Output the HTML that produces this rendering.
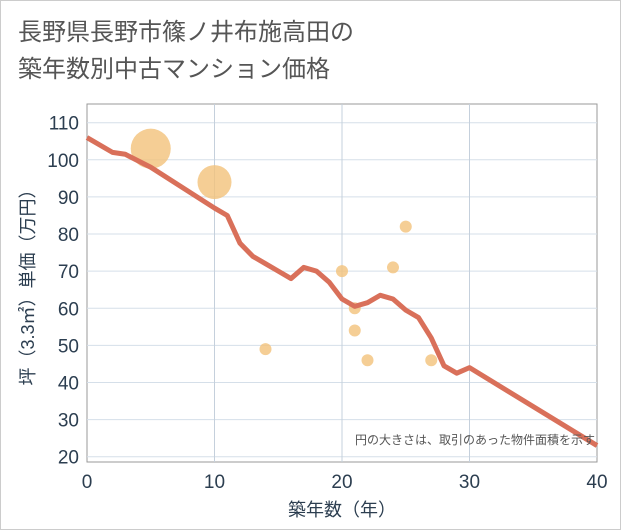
<!DOCTYPE html>
<html><head><meta charset="utf-8">
<style>
body{margin:0;background:#fff;}
#wrap{position:relative;width:619px;height:528px;border:1px solid #ccc;background:#fff;font-family:"Liberation Sans","Noto Sans CJK JP",sans-serif;}
#title{position:absolute;left:17px;top:13px;font-size:24px;line-height:37px;color:#555;}
svg{position:absolute;left:0;top:0;}
</style></head><body>
<div id="wrap">
<div id="title">長野県長野市篠ノ井布施高田の<br>築年数別中古マンション価格</div>
<svg id="chart" width="619" height="528"></svg>
</div>
<script>
const lineX=[0,2,3,5,10,11,12,13,14,15,16,17,18,19,20,21,22,23,24,25,26,27,28,29,30,40];
const lineY=[106,102,101.5,98,87,85,77.5,74,72,70,68,71,70,67,62.5,60.5,61.5,63.5,62.5,59.5,57.5,52,44.5,42.5,44,23];
const bubX=[5,10,14,20,21,21,22,24,25,27];
const bubY=[103,94,49,70,60,54,46,71,82,46];
const bubR=[20,17,6,6,6,6,6,6,6,6];
const xTicks=[0,10,20,30,40];
const yTicks=[20,30,40,50,60,70,80,90,100,110];
const L=86,R=596,T=103,B=461;
const sx=v=>L+(v/40)*(R-L);
const sy=v=>455.7-(v-20)*(455.7-121.7)/90;
const svg=document.getElementById('chart');
const NS='http://www.w3.org/2000/svg';
function mk(t,a){const e=document.createElementNS(NS,t);for(const k in a)e.setAttribute(k,a[k]);svg.appendChild(e);return e;}
let e=mk('rect',{x:L,y:T,width:R-L,height:B-T,fill:'#fff',stroke:'#999','stroke-width':1});


yTicks.forEach(v=>{
 let g=mk('line',{x1:L,x2:R,y1:sy(v),y2:sy(v),stroke:'#d5dfe9','stroke-width':1});
 
 
 let t=mk('text',{x:L-8,y:sy(v)+7,'text-anchor':'end','font-size':19,fill:'#2c3e50'});
 t.textContent=v;
 
 
});
xTicks.forEach(v=>{
 if(v>0&&v<40){let g=mk('line',{x1:sx(v),x2:sx(v),y1:T,y2:B,stroke:'#c5d0dc','stroke-width':1});
 
 }
 let t=mk('text',{x:sx(v),y:487,'text-anchor':'middle','font-size':19,fill:'#2c3e50'});
 t.textContent=v;
 
 
});
bubX.forEach((x,i)=>{
 let c=mk('circle',{cx:sx(x),cy:sy(bubY[i]),r:bubR[i],fill:'#f3c27a','fill-opacity':0.8});
 
 
});
let p=mk('polyline',{points:lineX.map((x,i)=>sx(x)+','+sy(lineY[i])).join(' '),fill:'none',stroke:'#d9705a','stroke-width':5,'stroke-linejoin':'round'});


let n=mk('text',{x:594,y:443,'text-anchor':'end','font-size':12,fill:'#555'});
n.textContent='円の大きさは、取引のあった物件面積を示す';


let xt=mk('text',{x:sx(20),y:515,'text-anchor':'middle','font-size':18,fill:'#2c3e50'});
xt.textContent='築年数（年）';


let yt=mk('text',{x:0,y:0,'text-anchor':'middle','font-size':18,fill:'#2c3e50',transform:'translate(33,'+(T+B)/2+') rotate(-90)'});
yt.textContent='坪（3.3㎡）単価（万円）';


</script>
</body></html>
